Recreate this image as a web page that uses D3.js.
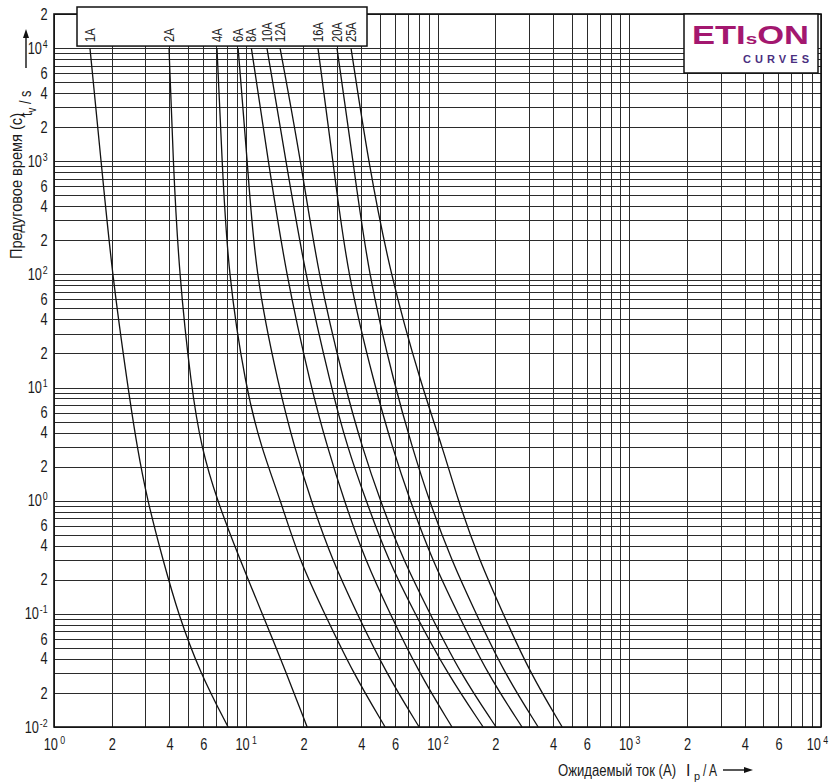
<!DOCTYPE html>
<html>
<head>
<meta charset="utf-8">
<script src="https://cdn.jsdelivr.net/npm/d3@7"></script>
<style>
  body { margin: 0; background: #fff; }
  svg { display: block; }
  text { font-family: "Liberation Sans Narrow", "Liberation Sans", Arial, sans-serif; fill: #1a1a1a; }
</style>
</head>
<body>
<div id="chart"></div>
<script>
const times = [10000, 1000, 100, 10, 3, 1, 0.3, 0.1, 0.03, 0.01];

// prospective current (A) of each fuse at the times above
const amps1A  = [1.54, 1.76, 2.01, 2.43, 2.71, 3.07, 3.70, 4.44, 5.78, 8.09];
const amps2A  = [3.98, 4.18, 4.49, 5.20, 5.85, 7.09, 9.34, 12.2, 16.3, 20.9];
const amps4A  = [7.08, 7.52, 8.09, 10.0, 12.0, 15.2, 19.0, 25.8, 36.3, 53.3];
const amps6A  = [9.12, 10.2, 11.2, 14.9, 17.9, 21.9, 28.2, 38.1, 53.9, 80.2];
const amps8A  = [10.7, 13.1, 16.2, 21.9, 26.6, 32.6, 41.9, 56.6, 80.2, 119];
const amps10A = [12.9, 16.2, 20.4, 27.9, 33.8, 42.4, 55.2, 76.4, 112, 173];
const amps12A = [15.1, 19.4, 23.8, 33.0, 40.4, 50.2, 66.2, 91.5, 131, 202];
const amps16A = [23.8, 28.5, 33.8, 47.3, 58.0, 71.9, 93.7, 128, 181, 276];
const amps20A = [29.9, 36.3, 43.5, 60.1, 73.7, 90.4, 118, 159, 223, 335];
const amps25A = [35.4, 43.5, 56.6, 83.1, 106, 128, 165, 220, 304, 447];

const ratings = ["1A", "2A", "4A", "6A", "8A", "10A", "12A", "16A", "20A", "25A"];
const series = [amps1A, amps2A, amps4A, amps6A, amps8A, amps10A, amps12A, amps16A, amps20A, amps25A];

// which mantissas get a number under the grid
const labelledMantissas = [2, 4, 6];

const W = 832, H = 782;
const plotLeft = 54, plotRight = 821, plotTop = 14, plotBottom = 727;
// the original lettering is a condensed face, squeeze a regular one
const squeeze = 0.8;

const svg = d3.select("#chart").append("svg")
    .attr("width", W)
    .attr("height", H);

const x = d3.scaleLog().domain([1, 1e4]).range([plotLeft, plotRight]);
const y = d3.scaleLog().domain([0.01, 2e4]).range([plotBottom, plotTop]);

const expo = v => Math.floor(Math.log10(v) + 1e-9);
const mant = v => Math.round(v / Math.pow(10, expo(v)));

// tick text: 10^n for decades, 2/4/6 in between, nothing else
function labelTicks(g, supDx) {
    g.selectAll(".tick text").each(function (v) {
        const t = d3.select(this);
        const m = mant(v);
        if (m === 1) {
            t.text("10");
            t.append("tspan")
                .attr("dx", supDx)
                .attr("dy", "-0.55em")
                .attr("font-size", "11px")
                .text(expo(v));
        } else if (labelledMantissas.includes(m)) {
            t.text(m);
        } else {
            t.text("");
        }
    });
    g.select(".domain").remove();
    g.selectAll(".tick line")
        .attr("stroke", "#2b2b2b")
        .attr("shape-rendering", "crispEdges");
    g.selectAll(".tick text")
        .attr("font-size", "16px")
        .attr("fill", "#1a1a1a")
        .attr("transform", "scale(" + squeeze + ",1)");
}

// Grid + tick labels through the axes
svg.append("g")
    .attr("transform", "translate(0," + plotBottom + ")")
    .call(d3.axisBottom(x)
        .tickValues(x.ticks())
        .tickSize(-(plotBottom - plotTop))
        .tickPadding(12)
        .tickFormat(d => d))
    .call(g => labelTicks(g, 3))
    .call(g => g.selectAll(".tick text").filter(d => d === 1e4).attr("dx", -5));

svg.append("g")
    .attr("transform", "translate(" + plotLeft + ",0)")
    .call(d3.axisLeft(y)
        .tickValues(y.ticks())
        .tickSize(-(plotRight - plotLeft))
        .tickPadding(8)
        .tickFormat(d => d))
    .call(g => labelTicks(g, 1));

// Frame
svg.append("rect")
    .attr("x", plotLeft).attr("y", plotTop)
    .attr("width", plotRight - plotLeft).attr("height", plotBottom - plotTop)
    .attr("fill", "none")
    .attr("stroke", "#111")
    .attr("stroke-width", 1.6);

// Curves
const line = d3.line()
    .x(d => x(d[0]))
    .y(d => y(d[1]))
    .curve(d3.curveBasis);

svg.append("g")
    .selectAll("path")
    .data(series)
    .enter().append("path")
        .attr("d", amps => line(amps.map((a, i) => [a, times[i]])))
        .attr("fill", "none")
        .attr("stroke", "#111")
        .attr("stroke-width", 1.3);

// Rating labels box
const boxTop = 7, boxBottom = y(10000) - 2;
svg.append("rect")
    .attr("x", 77).attr("y", boxTop)
    .attr("width", 290).attr("height", boxBottom - boxTop)
    .attr("fill", "#fff")
    .attr("stroke", "#111")
    .attr("stroke-width", 1.5);

svg.append("g")
    .selectAll("text")
    .data(ratings)
    .enter().append("text")
        .attr("transform", (d, i) => "translate(" + (x(series[i][0]) + 5) + "," + (boxBottom - 4) + ") rotate(-90) scale(" + squeeze + ",1)")
        .attr("font-size", "14px")
        .text(d => d);

// Logo
const logo = svg.append("g");
logo.append("rect")
    .attr("x", 684).attr("y", plotTop)
    .attr("width", 134).attr("height", 59)
    .attr("fill", "#fff")
    .attr("stroke", "#111")
    .attr("stroke-width", 1.5);
const brand = logo.append("text")
    .attr("x", 692).attr("y", 44)
    .attr("font-family", "Roboto, 'DejaVu Sans', sans-serif")
    .attr("font-weight", "bold")
    .attr("font-size", "25px")
    .attr("textLength", 117)
    .attr("lengthAdjust", "spacingAndGlyphs")
    .style("fill", "#a3176f");
brand.append("tspan").text("ETI");
brand.append("tspan").attr("font-size", "15px").text("s");
brand.append("tspan").text("ON");
logo.append("text")
    .attr("x", 743).attr("y", 63)
    .attr("font-family", "Roboto, 'DejaVu Sans', sans-serif")
    .attr("font-weight", "bold")
    .attr("font-size", "11px")
    .attr("textLength", 66)
    .attr("lengthAdjust", "spacing")
    .style("fill", "#4a2f80")
    .text("CURVES");

// Y title
svg.append("text")
    .attr("transform", "translate(22,186) rotate(-90)")
    .attr("text-anchor", "middle")
    .attr("font-size", "16px")
    .attr("textLength", 146)
    .attr("lengthAdjust", "spacingAndGlyphs")
    .text("Предуговое время (с)");

const tv = svg.append("text")
    .attr("transform", "translate(32,116) rotate(-90) scale(" + squeeze + ",1)")
    .attr("font-size", "16px");
tv.append("tspan").text("t");
tv.append("tspan").attr("dy", "0.3em").attr("font-size", "12px").text("v");
tv.append("tspan").attr("dy", "-0.3em").text(" / s");

svg.append("line")
    .attr("x1", 26).attr("y1", 68).attr("x2", 26).attr("y2", 36)
    .attr("stroke", "#111").attr("stroke-width", 1.4);
svg.append("path")
    .attr("d", "M26,29 L23,38 L29,38 Z")
    .attr("fill", "#111");

// X title
svg.append("text")
    .attr("x", 558).attr("y", 776)
    .attr("font-size", "16px")
    .attr("textLength", 118)
    .attr("lengthAdjust", "spacingAndGlyphs")
    .text("Ожидаемый ток (А)");

// I_p / A, drawn as separate pieces so the subscript sits clear of the I
svg.append("text")
    .attr("x", 686).attr("y", 776)
    .attr("font-family", "'Liberation Serif', serif")
    .attr("font-size", "16px")
    .text("I");
svg.append("text")
    .attr("x", 694).attr("y", 780)
    .attr("font-size", "11px")
    .text("p");
svg.append("text")
    .attr("x", 703).attr("y", 776)
    .attr("font-size", "16px")
    .attr("textLength", 14)
    .attr("lengthAdjust", "spacingAndGlyphs")
    .text("/ A");

svg.append("line")
    .attr("x1", 723).attr("y1", 770).attr("x2", 746).attr("y2", 770)
    .attr("stroke", "#111").attr("stroke-width", 1.4);
svg.append("path")
    .attr("d", "M753,770 L744,767 L744,773 Z")
    .attr("fill", "#111");
</script>
</body>
</html>
